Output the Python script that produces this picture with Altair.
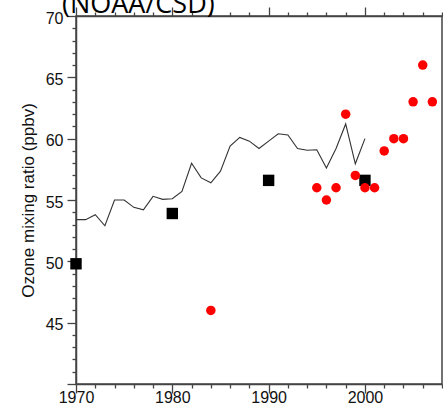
import altair as alt
import pandas as pd

# ---- data ----
line_years = [1970, 1971, 1972, 1973, 1974, 1975, 1976, 1977, 1978, 1979,
              1980, 1981, 1982, 1983, 1984, 1985, 1986, 1987, 1988, 1989,
              1990, 1991, 1992, 1993, 1994, 1995, 1996, 1997, 1998, 1999, 2000]
line_vals = [53.4, 53.4, 53.8, 52.9, 55.0, 55.0, 54.4, 54.2, 55.3, 55.05,
             55.1, 55.7, 58.0, 56.8, 56.4, 57.35, 59.4, 60.1, 59.8, 59.2,
             59.8, 60.4, 60.3, 59.2, 59.05, 59.1, 57.6, 59.2, 61.2, 57.95, 60.0]

square_years = [1970, 1980, 1990, 2000]
square_vals = [49.8, 53.9, 56.6, 56.6]

circle_years = [1984, 1995, 1996, 1997, 1998, 1999, 2000, 2001, 2002, 2003,
                2004, 2005, 2006, 2007]
circle_vals = [46, 56, 55, 56, 62, 57, 56, 56, 59, 60, 60, 63, 66, 63]

x_ticks = list(range(1970, 2009, 2))
y_ticks = list(range(40, 71, 1))
y_title = "Ozone mixing ratio (ppbv)"
top_text = "(NOAA/CSD)"

line_df = pd.DataFrame({"year": line_years, "val": line_vals})
sq_df = pd.DataFrame({"year": square_years, "val": square_vals})
ci_df = pd.DataFrame({"year": circle_years, "val": circle_vals})

xscale = alt.Scale(domain=[1970, 2008], nice=False, zero=False)
yscale = alt.Scale(domain=[40, 70], nice=False, zero=False)

common = dict(grid=False, domainColor="#444", domainWidth=1.5,
              tickColor="#444", tickWidth=1.3,
              labelFont="Liberation Sans", labelFontSize=16, labelColor="#111",
              labelOverlap=False, labelFlush=False)

x_bottom = alt.Axis(orient="bottom", values=x_ticks, format="d", title=None,
                    labelExpr="datum.value % 10 === 0 ? datum.label : ''",
                    tickSize={"condition": {"test": "datum.value % 10 === 0", "value": 9}, "value": 4},
                    labelPadding=-4, **common)
x_top = alt.Axis(orient="top", values=x_ticks, title=None, labels=False,
                 tickSize={"condition": {"test": "datum.value % 10 === 0", "value": 9}, "value": 4},
                 **common)
y_left = alt.Axis(orient="left", values=y_ticks, title=y_title,
                  labelExpr="datum.value % 5 === 0 && datum.value > 40 ? datum.label : ''",
                  tickSize={"condition": {"test": "datum.value % 5 === 0", "value": 9}, "value": 4},
                  labelPadding=4, labelOffset=2,
                  titleFont="Liberation Sans", titleFontSize=17, titleFontWeight="normal",
                  titleColor="#111", titleAngle=-90, titleX=-43, titleY=184,
                  titleAlign="center", titleBaseline="alphabetic",
                  **common)

line = alt.Chart(line_df).mark_line(color="#333", strokeWidth=1.1).encode(
    x=alt.X("year:Q", scale=xscale, axis=x_bottom),
    y=alt.Y("val:Q", scale=yscale, axis=y_left),
)

squares = alt.Chart(sq_df).mark_point(shape="square", filled=True, color="black",
                                      size=130, opacity=1).encode(
    x=alt.X("year:Q", scale=xscale, axis=x_top),
    y=alt.Y("val:Q", scale=yscale, axis=None),
)

circles = alt.Chart(ci_df).mark_circle(color="#ff0000", size=90, opacity=1).encode(
    x=alt.X("year:Q", scale=xscale, axis=None),
    y=alt.Y("val:Q", scale=yscale, axis=None),
)

label = alt.Chart(pd.DataFrame({"t": [top_text]})).mark_text(
    font="Open Sans", fontSize=27, align="left", baseline="alphabetic", color="black"
).encode(x=alt.value(-14), y=alt.value(-3), text="t:N")

chart = alt.layer(line, squares, circles, label).resolve_axis(
    x="independent", y="independent"
).properties(
    width=366, height=368,
    autosize=alt.AutoSizeParams(type="none"),
    padding={"left": 76, "top": 16, "right": 1, "bottom": 25},
).configure_view(stroke="#444", strokeWidth=1.5)

chart.save("out.html", embed_options={"renderer": "svg", "actions": False})
